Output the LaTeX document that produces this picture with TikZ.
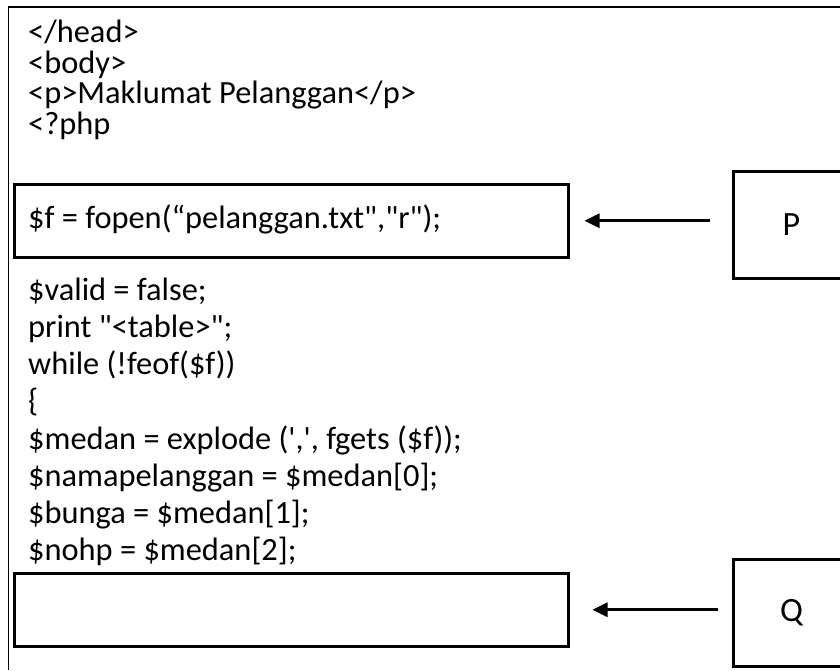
\documentclass[tikz,border=0pt]{standalone}
\usepackage{fontspec}
\setmainfont{Carlito}[Ligatures=TeXOff]
\usetikzlibrary{arrows.meta}

\tikzset{
  codeline/.style={anchor=base west, inner sep=0pt, font=\fontsize{32.4}{38}\selectfont},
  codebox/.style={draw, line width=2.5pt, minimum width=554pt, minimum height=73pt, inner sep=0pt},
  labelbox/.style={draw, line width=3pt, minimum width=116pt, minimum height=107pt, inner sep=0pt,
                   font=\fontsize{34}{40}\selectfont},
  pointer/.style={line width=3pt, -{Triangle[length=15pt,width=14pt]}},
  frame/.style={line width=1.5pt}
}

\begin{document}
\begin{tikzpicture}[x=1pt, y=-1pt]
  \useasboundingbox (0,0) rectangle (840,670);
  \clip (0,0) rectangle (840,670);

  % page frame (left and top edges)
  \draw[frame] (8.5,670) -- (8.5,7) -- (840,7);

  % HTML head/body lines
  \node[codeline] (l1) at (28,42.5)  {</head>};
  \node[codeline] (l2) at (28,73)    {<body>};
  \node[codeline] (l3) at (28,103.5) {<p>Maklumat Pelanggan</p>};
  \node[codeline] (l4) at (28,134)   {<?php};

  % highlighted statement P
  \node[codebox, anchor=north west] (boxP) at (13,183) {};
  \node[codeline] (l5) at (28,228) {\$f = fopen(“pelanggan.txt","r");};

  % remaining PHP lines
  \node[codeline] (l6)  at (28,300) {\$valid = false;};
  \node[codeline] (l7)  at (28,337) {print "<table>";};
  \node[codeline] (l8)  at (28,374) {while (!feof(\$f))};
  \node[codeline] (l9)  at (28,411) {\{};
  \node[codeline] (l10) at (28,449) {\$medan = explode (',', fgets (\$f));};
  \node[codeline] (l11) at (28,486) {\$namapelanggan = \$medan[0];};
  \node[codeline] (l12) at (28,523) {\$bunga = \$medan[1];};
  \node[codeline] (l13) at (28,560) {\$nohp = \$medan[2];};

  % empty statement Q
  \node[codebox, anchor=north west] (boxQ) at (13,572) {};

  % labels
  \node[labelbox, anchor=north west] (P) at (732,170) {P};
  \node[labelbox, anchor=north west] (Q) at (732,558) {Q};

  % pointers
  \draw[pointer, shorten >=15pt, shorten <=22pt] (P.west |- boxP.east) -- (boxP.east);
  \draw[pointer, shorten >=23pt, shorten <=14pt] (Q.west |- boxQ.east) -- (boxQ.east);
\end{tikzpicture}
\end{document}
